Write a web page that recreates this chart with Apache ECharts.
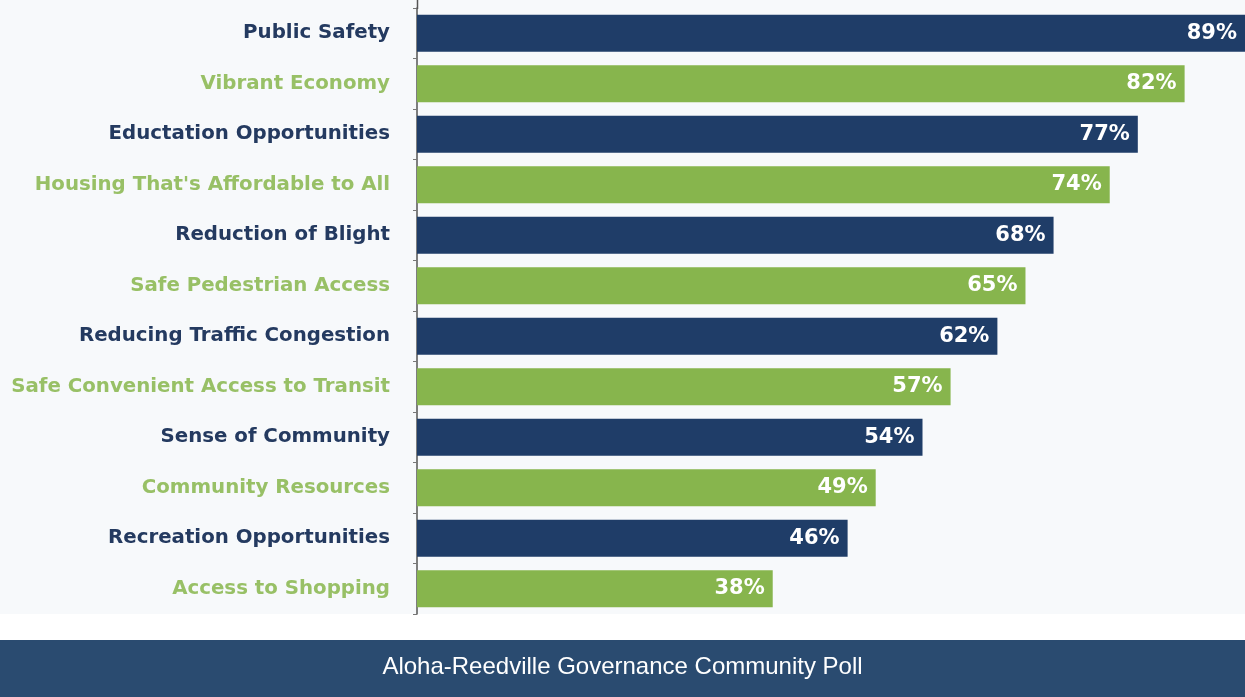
<!DOCTYPE html>
<html>
<head>
<meta charset="utf-8">
<script src="https://cdn.jsdelivr.net/npm/echarts@6/dist/echarts.min.js"></script>
<style>
html,body{margin:0;padding:0;background:#fff;}
#chart{width:1245px;height:697px;}
</style>
</head>
<body>
<div id="chart"></div>
<script>
const categories = [
  "Public Safety",
  "Vibrant Economy",
  "Eductation Opportunities",
  "Housing That's Affordable to All",
  "Reduction of Blight",
  "Safe Pedestrian Access",
  "Reducing Traffic Congestion",
  "Safe Convenient Access to Transit",
  "Sense of Community",
  "Community Resources",
  "Recreation Opportunities",
  "Access to Shopping"
];
const values = [89, 82, 77, 74, 68, 65, 62, 57, 54, 49, 46, 38];
const title = "Aloha-Reedville Governance Community Poll";

const NAVY = "#1f3d68";
const GREEN = "#87b54d";
const NAVY_TXT = "#243a60";
const GREEN_TXT = "#98c066";
const FONT = '"DejaVu Sans", Verdana, sans-serif';

const chart = echarts.init(document.getElementById('chart'));
chart.setOption({
  backgroundColor: '#ffffff',
  animation: false,
  graphic: [
    { type: 'rect', left: 0, top: 0, shape: { width: 1245, height: 614 }, style: { fill: '#f7f9fb' }, z: -10 },
    { type: 'line', shape: { x1: 417.5, y1: 0, x2: 417.5, y2: 9 }, style: { stroke: '#555', lineWidth: 1.5 }, z: 5 },
    { type: 'rect', left: 0, top: 640, shape: { width: 1245, height: 57 }, style: { fill: '#2a4b70' }, z: 1 },
    { type: 'text', left: 'center', top: 655, z: 2,
      style: { text: title, fill: '#ffffff', font: '24px "Liberation Sans", Arial, sans-serif' } }
  ],
  grid: { left: 417, top: 8, right: 0, height: 606, containLabel: false },
  xAxis: { type: 'value', min: 0, max: 88.45, show: false },
  yAxis: {
    type: 'category',
    data: categories,
    inverse: true,
    axisLine: { show: true, lineStyle: { color: '#555', width: 1.5 } },
    axisTick: { show: true, length: 4, lineStyle: { color: '#777' } },
    axisLabel: {
      margin: 27,
      fontSize: 19.8,
      fontWeight: 'bold',
      fontFamily: FONT,
      color: function (v, i) { return i % 2 === 0 ? NAVY_TXT : GREEN_TXT; }
    }
  },
  series: [{
    type: 'bar',
    data: values,
    barWidth: 37,
    clip: true,
    itemStyle: { color: function (p) { return p.dataIndex % 2 === 0 ? NAVY : GREEN; } },
    label: {
      show: true,
      position: 'insideRight',
      distance: 8,
      formatter: '{c}%',
      color: '#ffffff',
      fontSize: 21,
      fontWeight: 'bold',
      fontFamily: FONT
    }
  }]
});
</script>
</body>
</html>
